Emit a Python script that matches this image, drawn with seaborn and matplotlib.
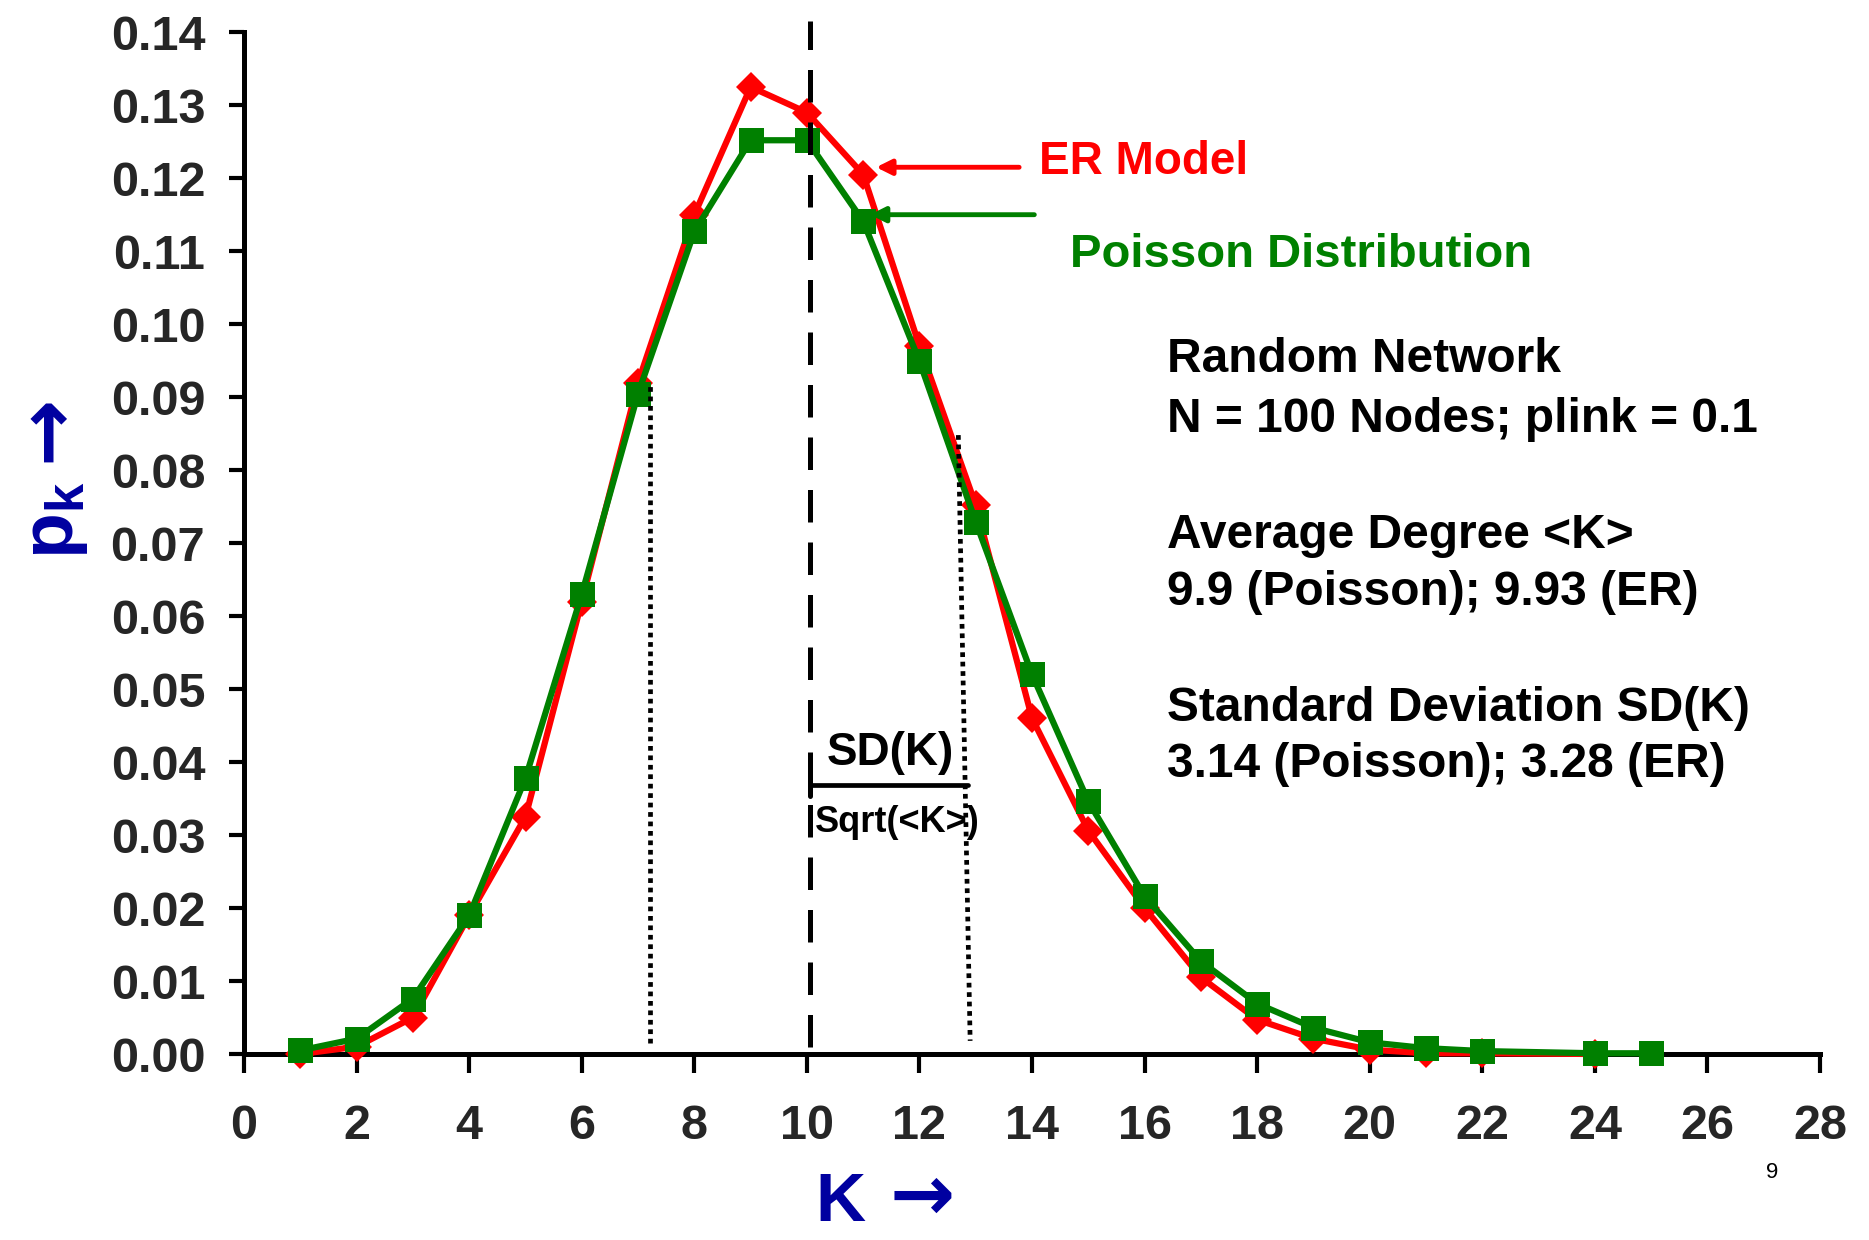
import numpy as np
import pandas as pd
import matplotlib
matplotlib.use("Agg")
import matplotlib.pyplot as plt
import seaborn as sns

# ---------------- data ----------------
k_er = [1, 2, 3, 4, 5, 6, 7, 8, 9, 10, 11, 12, 13, 14, 15, 16, 17, 18, 19, 20, 21, 22, 24]
p_er = [0.0000, 0.0010, 0.0050, 0.0190, 0.0325, 0.0620, 0.0920, 0.1150, 0.1325, 0.1290,
        0.1205, 0.0970, 0.0752, 0.0460, 0.0306, 0.0200, 0.0105, 0.0047, 0.0021, 0.0006,
        0.0001, 0.0001, 0.0000]

k_po = [1, 2, 3, 4, 5, 6, 7, 8, 9, 10, 11, 12, 13, 14, 15, 16, 17, 18, 19, 20, 21, 22, 24, 25]
p_po = [0.0005, 0.0021, 0.0076, 0.0190, 0.0378, 0.0630, 0.0905, 0.1127, 0.1252, 0.1252,
        0.1141, 0.0949, 0.0729, 0.0520, 0.0346, 0.0216, 0.0127, 0.0069, 0.0036, 0.0016,
        0.0008, 0.0004, 0.0001, 0.0001]

x_ticks = list(range(0, 29, 2))
y_ticks = [0.00, 0.01, 0.02, 0.03, 0.04, 0.05, 0.06, 0.07, 0.08, 0.09, 0.10, 0.11, 0.12, 0.13, 0.14]
y_tick_labels = ["%.2f" % v for v in y_ticks]

mean_k = 10.06          # dashed line (average degree)
sd_left = 7.22          # left dotted line
sd_right_top = 12.69    # right dotted line (top)
sd_right_bottom = 12.9  # right dotted line (bottom)

info_lines = ["Random Network", "N = 100 Nodes; plink = 0.1",
              "Average Degree <K>", "9.9 (Poisson); 9.93 (ER)",
              "Standard Deviation SD(K)", "3.14 (Poisson); 3.28 (ER)"]
info_y = [0.0951, 0.0869, 0.0711, 0.0632, 0.0474, 0.0397]

# ---------------- style ----------------
sns.set_style("white")
plt.rcParams["font.family"] = ["Liberation Sans", "DejaVu Sans"]
plt.rcParams["mathtext.fontset"] = "custom"
plt.rcParams["mathtext.bf"] = "Liberation Sans:bold"
plt.rcParams["mathtext.rm"] = "Liberation Sans"
plt.rcParams["mathtext.it"] = "Liberation Sans:italic"

FAM = ["Liberation Sans", "DejaVu Sans"]
BLUE = "#0000A0"
GREEN = "#008000"
RED = "#FF0000"

fig = plt.figure(figsize=(18.69, 12.40), dpi=100)
ax = fig.add_axes([0.1306, 0.15, 0.8432, 0.824])

df_er = pd.DataFrame({"k": k_er, "p": p_er})
df_po = pd.DataFrame({"k": k_po, "p": p_po})

sns.lineplot(data=df_er, x="k", y="p", ax=ax, color=RED, linewidth=4.5,
             marker="D", markersize=15, markeredgewidth=0, clip_on=False, zorder=3)
sns.lineplot(data=df_po, x="k", y="p", ax=ax, color=GREEN, linewidth=4.5,
             marker="s", markersize=18, markeredgewidth=0, clip_on=False, zorder=4)

ax.set_xlim(0, 28)
ax.set_ylim(0, 0.14)
ax.set_xticks(x_ticks)
ax.set_xticklabels([str(v) for v in x_ticks])
ax.set_yticks(y_ticks)
ax.set_yticklabels(y_tick_labels)
ax.set_xlabel("")
ax.set_ylabel("")

for s in ["top", "right"]:
    ax.spines[s].set_visible(False)
for s in ["left", "bottom"]:
    ax.spines[s].set_linewidth(3.6)
    ax.spines[s].set_color("black")
    ax.spines[s].set_zorder(2)

ax.tick_params(axis="y", direction="out", length=11, width=3, pad=17,
               labelsize=35, color="black", left=True)
ax.tick_params(axis="x", direction="out", length=14, width=3, pad=22,
               labelsize=35, color="black", bottom=True)
for lab in ax.get_xticklabels() + ax.get_yticklabels():
    lab.set_fontweight("bold")
    lab.set_fontfamily(FAM)

# reference lines
ax.plot([mean_k, mean_k], [0.001, 0.1415], color="black", linewidth=3.6,
        linestyle=(0, (6.5, 4)), clip_on=False, zorder=5)
ax.plot([sd_left, sd_left], [0.0015, 0.0915], color="black", linewidth=3.4,
        linestyle=(0, (1, 1)), zorder=5)
ax.plot([sd_right_top, sd_right_bottom], [0.0848, 0.0018], color="black", linewidth=3.4,
        linestyle=(0, (1, 1)), zorder=5)

# SD(K) bracket
ax.plot([mean_k, 12.86], [0.0368, 0.0368], color="black", linewidth=3.4, zorder=5)
ax.plot([mean_k, mean_k], [0.0353, 0.0383], color="black", linewidth=3.6, zorder=5)
ax.text(11.48, 0.0412, "SD(K)", fontsize=33, fontweight="bold", ha="center", va="center",
        color="black")
ax.text(10.14, 0.0317, "Sqrt(<K>)", fontsize=26, fontweight="bold", ha="left", va="center",
        color="black")

# annotations
ax.annotate("", xy=(11.23, 0.1215), xytext=(13.77, 0.1215),
            arrowprops=dict(arrowstyle="-|>,head_length=0.9,head_width=0.45",
                            color=RED, lw=3.5, shrinkA=0, shrinkB=0), zorder=6)
ax.text(14.13, 0.1222, "ER Model", fontsize=33, fontweight="bold", color=RED,
        ha="left", va="center")
ax.annotate("", xy=(11.12, 0.1150), xytext=(14.04, 0.1150),
            arrowprops=dict(arrowstyle="-|>,head_length=0.9,head_width=0.45",
                            color=GREEN, lw=3.5, shrinkA=0, shrinkB=0), zorder=6)
ax.text(14.68, 0.1095, "Poisson Distribution", fontsize=34, fontweight="bold", color=GREEN,
        ha="left", va="center")

for txt, yy in zip(info_lines, info_y):
    ax.text(16.4, yy, txt, fontsize=34.5, fontweight="bold", color="black",
            ha="left", va="center")

# axis labels
fig.text(840 / 1869, 1 - 1203 / 1240, "K", fontsize=50, fontweight="bold", color=BLUE,
         ha="center", va="center", family=FAM)
fig.text(922 / 1869, 1 - 1198 / 1240, "→", fontsize=56, fontweight="bold", color=BLUE,
         ha="center", va="center", family=["DejaVu Sans"])
fig.text(56 / 1869, 1 - 520 / 1240, r"$\mathbf{p}_{\mathbf{k}}$", fontsize=54,
         fontweight="bold", color=BLUE, ha="center", va="center", rotation=90,
         family=FAM)
fig.text(48 / 1869, 1 - 428 / 1240, "→", fontsize=58, fontweight="bold", color=BLUE,
         ha="center", va="center", rotation=90, family=["DejaVu Sans"])

fig.text(1772 / 1869, 1 - 1172 / 1240, "9", fontsize=16, color="black",
         ha="center", va="center")

fig.savefig("out.png", dpi=100)
